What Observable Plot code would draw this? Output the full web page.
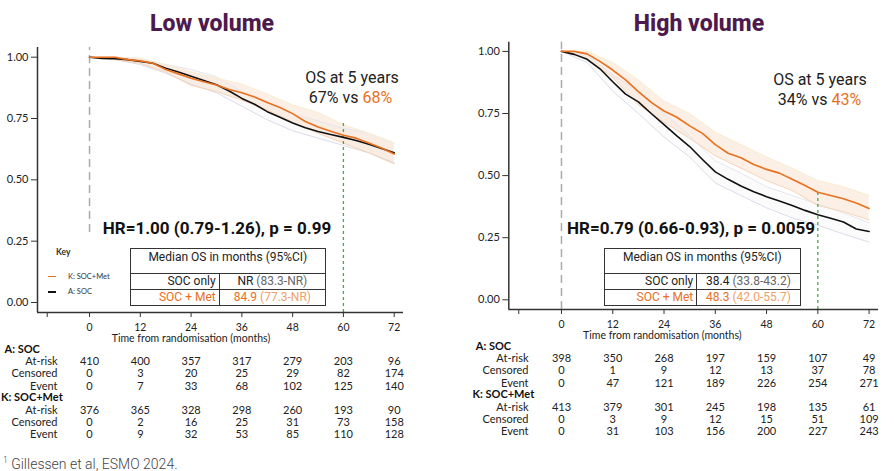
<!DOCTYPE html>
<html><head><meta charset="utf-8">
<script src="https://cdn.jsdelivr.net/npm/d3@7"></script>
<script src="https://cdn.jsdelivr.net/npm/@observablehq/plot@0.6"></script>
<style>
body{margin:0;background:#fff}
#wrap{position:relative;width:894px;height:471px;overflow:hidden;background:#fff;font-family:Roboto,sans-serif;color:#222}
#wrap svg{position:absolute;top:0}
.ov{position:absolute;white-space:nowrap;line-height:1;transform:translate(-50%,-50%)}
.title{font-weight:800;font-size:23px;color:#4e1a4d}
.os{font-size:16px;color:#222}
.hr{font-weight:700;font-size:17px;color:#111}
.org{color:#e8701e}
table.med{position:absolute;border-collapse:collapse;table-layout:fixed;font:12px/14px Roboto,sans-serif;color:#222}
table.med td{border:1.5px solid #333;padding:0 3px;white-space:nowrap}
.key{position:absolute;font-family:Lato,sans-serif;color:#333}
.foot{position:absolute;left:3px;top:455px;font:300 14px Roboto,sans-serif;color:#444;white-space:nowrap}
</style></head><body><div id="wrap"></div>
<script>
// ---- time grids ----
const months = [0,3,6,9,12,15,18,21,24,27,30,33,36,39,42,45,48,51,54,57,60,63,66,69,72];
const ciMonths = [0,6,12,18,24,30,36,42,48,54,60,66,72];
const tickMonths = [0,12,24,36,48,60,72];
const yTicks = [0,0.25,0.5,0.75,1];

// ---- Low volume survival ----
const lowSoc = [1.0,0.995,0.994,0.99,0.983,0.975,0.955,0.94,0.922,0.905,0.888,0.862,0.832,0.808,0.778,0.755,0.732,0.712,0.697,0.685,0.673,0.66,0.645,0.628,0.61];
const lowMet = [1.0,1.0,1.0,0.99,0.985,0.975,0.95,0.932,0.914,0.9,0.887,0.868,0.855,0.838,0.815,0.795,0.77,0.738,0.715,0.698,0.682,0.67,0.65,0.63,0.605];
const lowSocLo = [1.0,0.99,0.97,0.935,0.89,0.855,0.8,0.745,0.7,0.67,0.64,0.61,0.57];
const lowSocHi = [1.0,1.0,0.995,0.97,0.95,0.92,0.86,0.82,0.77,0.74,0.71,0.69,0.65];
const lowMetLo = [1.0,0.99,0.975,0.94,0.885,0.86,0.825,0.785,0.735,0.69,0.65,0.61,0.565];
const lowMetHi = [1.0,1.0,0.995,0.97,0.94,0.915,0.89,0.85,0.805,0.775,0.725,0.69,0.65];

// ---- High volume survival ----
const highSoc = [1.0,0.988,0.968,0.93,0.878,0.828,0.797,0.75,0.705,0.66,0.617,0.565,0.515,0.485,0.458,0.435,0.415,0.398,0.38,0.36,0.342,0.328,0.313,0.285,0.275];
const highMet = [1.0,1.0,0.99,0.96,0.925,0.885,0.838,0.795,0.76,0.735,0.70,0.67,0.625,0.59,0.572,0.545,0.525,0.51,0.485,0.46,0.433,0.42,0.407,0.39,0.368];
const highSocLo = [1.0,0.955,0.84,0.75,0.655,0.575,0.47,0.42,0.37,0.33,0.3,0.265,0.232];
const highSocHi = [1.0,0.985,0.905,0.84,0.75,0.66,0.56,0.51,0.455,0.42,0.385,0.35,0.31];
const highMetLo = [1.0,0.97,0.895,0.785,0.715,0.65,0.58,0.53,0.48,0.44,0.38,0.355,0.322];
const highMetHi = [1.0,1.0,0.955,0.885,0.80,0.75,0.675,0.625,0.575,0.53,0.48,0.455,0.42];

// ---- numbers at risk ----
const lowSocAtRisk = [410,400,357,317,279,203,96];
const lowSocCensored = [0,3,20,25,29,82,174];
const lowSocEvent = [0,7,33,68,102,125,140];
const lowMetAtRisk = [376,365,328,298,260,193,90];
const lowMetCensored = [0,2,16,25,31,73,158];
const lowMetEvent = [0,9,32,53,85,110,128];
const highSocAtRisk = [398,350,268,197,159,107,49];
const highSocCensored = [0,1,9,12,13,37,78];
const highSocEvent = [0,47,121,189,226,254,271];
const highMetAtRisk = [413,379,301,245,198,135,61];
const highMetCensored = [0,3,9,12,15,51,109];
const highMetEvent = [0,31,103,156,200,227,243];

// ---- annotations ----
const titles = ["Low volume","High volume"];
const os5Soc = ["67%","34%"];
const os5Met = ["68%","43%"];
const hrText = ["HR=1.00 (0.79-1.26), p = 0.99","HR=0.79 (0.66-0.93), p = 0.0059"];
const medHeader = "Median OS in months (95%CI)";
const medRowLabels = ["SOC only","SOC + Met"];
const lowMedian = ["NR","84.9"], lowMedianCI = ["(83.3-NR)","(77.3-NR)"];
const highMedian = ["38.4","48.3"], highMedianCI = ["(33.8-43.2)","(42.0-55.7)"];
const landmarkTop = [0.73, 0.433];
const armLabels = ["A: SOC","K: SOC+Met"];
const rowLabels = ["At-risk","Censored","Event"];
const keyLabels = ["K: SOC+Met","A: SOC"];

const ORANGE = "#e8701e", BLACK = "#111";

function panel(p) {
  const soc = months.map((t,i)=>({t, s:p.soc[i]}));
  const met = months.map((t,i)=>({t, s:p.met[i]}));
  const socBand = ciMonths.map((t,i)=>({t, lo:p.socLo[i], hi:p.socHi[i]}));
  const metBand = ciMonths.map((t,i)=>({t, lo:p.metLo[i], hi:p.metHi[i]}));
  const offs = {title:28.85, armA:40.85, a:[52.8,64.8,77.2], armK:88.85, k:[101,113.35,125.3]};
  const rowMark = (vals, dy) => Plot.text(vals, {x: tickMonths, text: d=>String(d), frameAnchor:"bottom", dy, fontSize:11, fill:"#222"});
  const rowLabel = (lab, dy) => Plot.text([lab], {frameAnchor:"bottom-left", dx:p.labDx, dy, textAnchor:"end", fontSize:11, fill:"#222"});
  const marks = [
    Plot.areaY(metBand, {x:"t", y1:"lo", y2:"hi", fill:"#f2b48a", fillOpacity:0.22}),
    Plot.areaY(socBand, {x:"t", y1:"lo", y2:"hi", fill:"#c4c4d2", fillOpacity:0.07}),
    Plot.line(socBand, {x:"t", y:"lo", stroke:"#dcdce8", strokeWidth:1}),
    Plot.line(socBand, {x:"t", y:"hi", stroke:"#e6e6ee", strokeWidth:1}),
    Plot.line(metBand, {x:"t", y:"lo", stroke:"#f5d3b8", strokeWidth:1}),
    Plot.line(metBand, {x:"t", y:"hi", stroke:"#fbeed2", strokeWidth:1}),
    Plot.ruleX([0], {y1:p.zeroBottom, y2:p.yd[1], stroke:"#aaa", strokeWidth:1.5, strokeDasharray:"8,5"}),
    Plot.ruleX([60], {y1:p.yd[0], y2:p.landTop, stroke:"#3dae49", strokeWidth:1.3, strokeDasharray:"3,3"}),
    Plot.line(soc, {x:"t", y:"s", stroke:BLACK, strokeWidth:1.6}),
    Plot.line(met, {x:"t", y:"s", stroke:ORANGE, strokeWidth:1.6}),
    Plot.ruleX([p.xd[0]], {stroke:"#333", strokeWidth:1.5}),
    Plot.ruleY([p.yd[0]], {stroke:"#333", strokeWidth:1.5}),
    Plot.axisX({ticks:[-10, ...tickMonths], tickFormat:d=>d<0?"":String(d), tickSize:5, tickPadding:6, fontSize:10.5, label:null, stroke:"#333"}),
    Plot.axisY({ticks:yTicks, tickFormat:d3.format(".2f"), tickSize:6, tickPadding:3, fontSize:11, label:null, stroke:"#333"}),
    Plot.text(["Time from randomisation (months)"], {frameAnchor:"bottom-left", dx:153.5, dy:offs.title + 0.5, textAnchor:"middle", fontSize:10.5, fill:"#222"}),
    Plot.text([armLabels[0]], {frameAnchor:"bottom-left", dx:p.armADx, dy:offs.armA, textAnchor:"start", fontWeight:"bold", fontSize:11, fill:"#111"}),
    Plot.text([armLabels[1]], {frameAnchor:"bottom-left", dx:p.armKDx, dy:offs.armK, textAnchor:"start", fontWeight:"bold", fontSize:11, fill:"#111"})
  ];
  const socRows = [p.socAtRisk, p.socCens, p.socEvent], metRows = [p.metAtRisk, p.metCens, p.metEvent];
  rowLabels.forEach((lab,i)=>{
    marks.push(rowLabel(lab, offs.a[i]), rowMark(socRows[i], offs.a[i]));
    marks.push(rowLabel(lab, offs.k[i]), rowMark(metRows[i], offs.k[i]));
  });
  const svg = Plot.plot({
    width:447, height:471,
    marginLeft:p.ml, marginRight:p.mr, marginTop:p.mt, marginBottom:p.mb,
    x:{domain:p.xd}, y:{domain:p.yd},
    style:{background:"transparent", fontFamily:"Lato, sans-serif", fontSize:"11px", overflow:"visible", color:"#222"},
    marks
  });
  svg.style.left = p.left + "px";
  return svg;
}

const wrap = document.getElementById("wrap");
wrap.appendChild(panel({
  left:0, ml:37, mr:44, mt:47, mb:159, xd:[-12.3,74.2], yd:[-0.0408,1.0395],
  soc:lowSoc, met:lowMet, socLo:lowSocLo, socHi:lowSocHi, metLo:lowMetLo, metHi:lowMetHi,
  zeroBottom:0.285, landTop:landmarkTop[0],
  labDx:20, armADx:-33, armKDx:-36.5,
  socAtRisk:lowSocAtRisk, socCens:lowSocCensored, socEvent:lowSocEvent,
  metAtRisk:lowMetAtRisk, metCens:lowMetCensored, metEvent:lowMetEvent
}));
wrap.appendChild(panel({
  left:447, ml:61.3, mr:16, mt:41.7, mb:162, xd:[-12.33,74.2], yd:[-0.039,1.037],
  soc:highSoc, met:highMet, socLo:highSocLo, socHi:highSocHi, metLo:highMetLo, metHi:highMetHi,
  zeroBottom:-0.039, landTop:landmarkTop[1],
  labDx:19.7, armADx:-33, armKDx:-36.3,
  socAtRisk:highSocAtRisk, socCens:highSocCensored, socEvent:highSocEvent,
  metAtRisk:highMetAtRisk, metCens:highMetCensored, metEvent:highMetEvent
}));

function ov(html, cls, x, y) {
  const d = document.createElement("div");
  d.className = "ov " + cls;
  d.style.left = x + "px"; d.style.top = y + "px";
  d.innerHTML = html;
  wrap.appendChild(d);
}
ov(titles[0], "title", 212, 23);
ov(titles[1], "title", 699, 23);
ov("OS at 5 years", "os", 352, 78);
ov(`${os5Soc[0]} vs <span class="org">${os5Met[0]}</span>`, "os", 350.5, 98);
ov("OS at 5 years", "os", 820, 80);
ov(`${os5Soc[1]} vs <span class="org">${os5Met[1]}</span>`, "os", 819.5, 100);
ov(hrText[0], "hr", 217, 228);
ov(hrText[1], "hr", 691, 228);

function medTable(x, w, c1, vals, cis) {
  const t = document.createElement("table");
  t.className = "med";
  t.style.left = x + "px"; t.style.top = "248px"; t.style.width = w + "px";
  const colors = [["#222","#666"],[ORANGE,"#f0a06a"]];
  let h = `<colgroup><col style="width:${c1}px"><col></colgroup>`;
  h += `<tr style="height:24.7px"><td colspan="2" style="text-align:center;vertical-align:top;padding-top:1px">${medHeader}</td></tr>`;
  medRowLabels.forEach((lab,i)=>{
    h += `<tr style="height:16px"><td style="text-align:right;color:${i?ORANGE:"#222"}">${lab}</td>` +
         `<td style="text-align:center"><span style="color:${colors[i][0]}">${vals[i]}</span> <span style="color:${colors[i][1]}">${cis[i]}</span></td></tr>`;
  });
  t.innerHTML = h;
  wrap.appendChild(t);
}
medTable(129.7, 196.3, 89, lowMedian, lowMedianCI);
medTable(604, 196.7, 92.3, highMedian, highMedianCI);

// key (left panel)
const k = document.createElement("div");
k.className = "key";
k.style.left = "0px"; k.style.top = "0px";
k.innerHTML = `<div style="position:absolute;left:56px;top:247px;font-weight:700;font-size:8.5px">Key</div>` +
  keyLabels.map((lab,i)=>`<div style="position:absolute;left:48px;top:${[272.5,288][i]}px;font-size:7.5px;white-space:nowrap;line-height:8px">` +
  `<span style="display:inline-block;width:8px;height:1.6px;background:${i?BLACK:ORANGE};vertical-align:middle;margin-right:12px"></span>${lab}</div>`).join("");
wrap.appendChild(k);

const f = document.createElement("div");
f.className = "foot";
f.innerHTML = `<sup style="font-size:8.5px">1</sup> Gillessen et al, ESMO 2024.`;
wrap.appendChild(f);
</script></body></html>
